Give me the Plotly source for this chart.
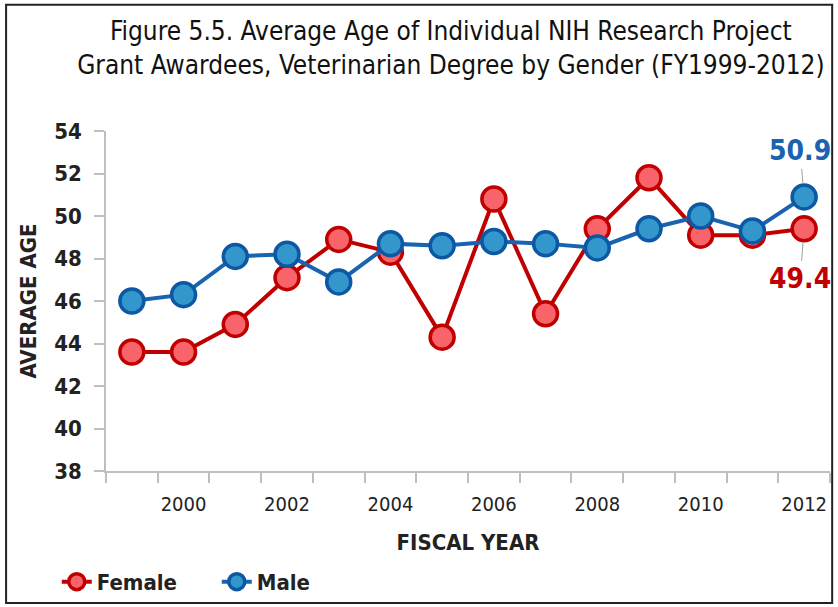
import plotly.graph_objects as go

years = list(range(1999, 2013))
female = [43.6, 43.6, 44.9, 47.1, 48.9, 48.3, 44.3, 50.8, 45.4, 49.4, 51.8, 49.1, 49.1, 49.4]
male = [46.0, 46.3, 48.1, 48.2, 46.9, 48.7, 48.6, 48.8, 48.7, 48.5, 49.4, 50.0, 49.3, 50.9]
xtick_vals = [2000, 2002, 2004, 2006, 2008, 2010, 2012]
ytick_vals = [38, 40, 42, 44, 46, 48, 50, 52, 54]

NARROW = "DejaVu Sans Condensed, Liberation Sans Narrow, Arial Narrow, sans-serif"

fig = go.Figure()
fig.add_trace(go.Scatter(
    x=years, y=female, name="<b>Female</b>", mode="lines+markers",
    line=dict(color="#C00000", width=4),
    marker=dict(size=24, color="#F8646A", line=dict(color="#C00000", width=3.5)),
))
fig.add_trace(go.Scatter(
    x=years, y=male, name="<b>Male</b>", mode="lines+markers",
    line=dict(color="#1A63B0", width=4),
    marker=dict(size=24, color="#3397CC", line=dict(color="#0C58A4", width=3.5)),
))

fig.add_annotation(x=years[-1], y=male[-1], text="<b>%.1f</b>" % male[-1],
                   showarrow=True, arrowhead=0, arrowwidth=1, arrowcolor="#A0A0A0",
                   ax=-4, ay=-46, standoff=13,
                   font=dict(family=NARROW, size=28, color="#1A63B0"))
fig.add_annotation(x=years[-1], y=female[-1], text="<b>%.1f</b>" % female[-1],
                   showarrow=True, arrowhead=0, arrowwidth=1, arrowcolor="#A0A0A0",
                   ax=-4, ay=50, standoff=13,
                   font=dict(family=NARROW, size=28, color="#C00000"))

# outer frame
fig.add_shape(type="rect", xref="paper", yref="paper",
              x0=-0.138, x1=1.003, y0=-0.388, y1=1.371,
              line=dict(color="#222222", width=2))

fig.update_layout(
    width=838, height=607,
    margin=dict(l=106, r=8, t=131, b=136, autoexpand=False),
    paper_bgcolor="white", plot_bgcolor="white",
    title=dict(text="Figure 5.5. Average Age of Individual NIH Research Project<br>Grant Awardees, Veterinarian Degree by Gender (FY1999-2012)",
               x=0.538, xanchor="center", y=0.934, yanchor="middle",
               font=dict(family=NARROW, size=26, color="#111111")),
    xaxis=dict(range=[1998.5, 2012.5], tickmode="array", tickvals=xtick_vals,
               ticks="", showgrid=False, zeroline=False,
               showline=True, linecolor="#BFBFBF", linewidth=1.5,
               tickfont=dict(family=NARROW, size=20, color="#222222"),
               ticklabelstandoff=14,
               minor=dict(tickmode="linear", tick0=1998.5, dtick=1, ticks="outside",
                          ticklen=10, tickcolor="#BFBFBF", tickwidth=1.5),
               title=dict(text="<b>FISCAL YEAR</b>", standoff=20,
                          font=dict(family=NARROW, size=22, color="#222222"))),
    yaxis=dict(range=[38, 54], tickmode="array", tickvals=ytick_vals,
               ticktext=["<b>%d</b>" % v for v in ytick_vals],
               ticks="outside", ticklen=10, tickcolor="#BFBFBF", tickwidth=1.5,
               showgrid=False, zeroline=False,
               showline=True, linecolor="#BFBFBF", linewidth=1.5,
               tickfont=dict(family=NARROW, size=22, color="#222222"),
               ticklabelstandoff=8,
               title=dict(text="<b>AVERAGE AGE</b>", standoff=12,
                          font=dict(family=NARROW, size=22, color="#222222"))),
    legend=dict(orientation="h", x=-0.068, xanchor="left", y=-0.326, yanchor="middle",
                font=dict(family=NARROW, size=22, color="#222222"),
                itemwidth=30, entrywidth=115, tracegroupgap=0, bgcolor="rgba(0,0,0,0)"),
    showlegend=True,
)
fig.update_xaxes(tickprefix="<b>", ticksuffix="</b>")

fig.write_html("out.html", config={"displayModeBar": False},
               post_script="document.body.style.margin='0px';")
